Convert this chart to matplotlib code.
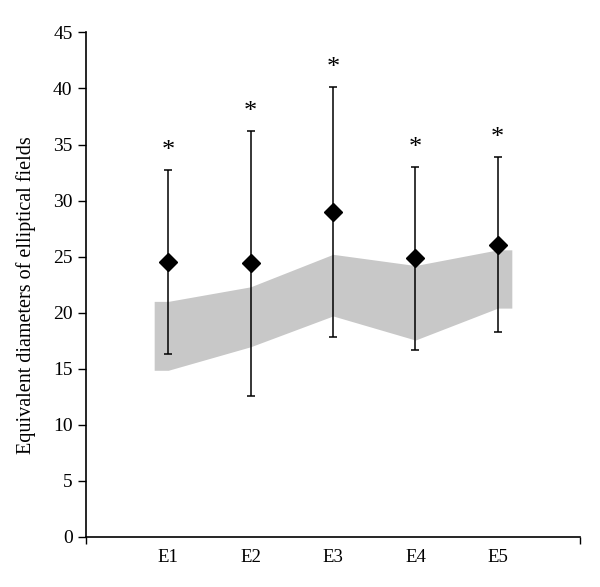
import matplotlib.pyplot as plt
import numpy as np

# data
groups = ["E1", "E2", "E3", "E4", "E5"]
means = [24.5, 24.4, 29.0, 24.9, 26.0]
upper = [32.7, 36.2, 40.1, 33.0, 33.9]
lower = [16.3, 12.55, 17.8, 16.7, 18.25]

# reference band (gray area)
band_top = [21.0, 22.3, 25.2, 24.2, 25.6]
band_bottom = [14.85, 16.95, 19.7, 17.55, 20.4]

plt.rcParams["font.family"] = ["Liberation Serif", "DejaVu Serif"]

fig = plt.figure(figsize=(6, 5.87), dpi=100)
ax = fig.add_axes([0.143, 0.0857, 0.824, 0.859])

x = np.arange(1, len(groups) + 1)

# band extends a little past the first and last group
bx = np.concatenate([[x[0] - 0.17], x, [x[-1] + 0.17]])
btop = np.concatenate([[band_top[0]], band_top, [band_top[-1]]])
bbot = np.concatenate([[band_bottom[0]], band_bottom, [band_bottom[-1]]])
ax.fill_between(bx, bbot, btop, color="#c8c8c8", linewidth=0, zorder=1)

means = np.array(means)
yerr = [means - np.array(lower), np.array(upper) - means]
ax.errorbar(x, means, yerr=yerr, fmt="D", color="black", markersize=9,
            ecolor="black", elinewidth=1.1, capsize=3, capthick=1.1, zorder=3)

# significance stars
for xi, up in zip(x, upper):
    ax.annotate("*", (xi, up), xytext=(0, 6), textcoords="offset points",
                ha="center", va="bottom", fontsize=19)

ax.set_xlim(0, 6)
ax.set_ylim(0, 45)
ax.set_yticks(np.arange(0, 46, 5))
ax.set_xticks([0, 6])
ax.set_xticklabels(["", ""])
ax.set_xticks(x, minor=True)
ax.set_xticklabels(groups, minor=True)
ax.tick_params(axis="x", which="minor", length=0, pad=9, labelsize=13.5)
ax.tick_params(axis="x", which="major", length=5, direction="out", width=1)
ax.tick_params(axis="y", length=6, width=1, labelsize=14)

ax.spines["top"].set_visible(False)
ax.spines["right"].set_visible(False)
ax.spines["left"].set_linewidth(1.2)
ax.spines["bottom"].set_linewidth(1.2)

ax.set_ylabel("Equivalent diameters of elliptical fields", fontsize=14.5)
ax.yaxis.set_label_coords(-0.101, 0.48)

plt.savefig("out.png", dpi=100)
